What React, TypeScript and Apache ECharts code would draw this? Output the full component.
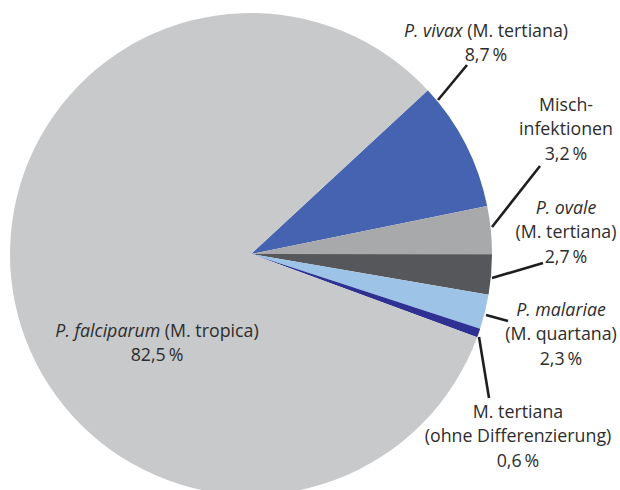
import React, { useEffect, useRef } from 'react';
import * as echarts from 'echarts';

// ---- data ----
const categories = [
  'P. vivax (M. tertiana)',
  'Mischinfektionen',
  'P. ovale (M. tertiana)',
  'P. malariae (M. quartana)',
  'M. tertiana (ohne Differenzierung)',
  'P. falciparum (M. tropica)',
];
const values = [8.7, 3.2, 2.7, 2.3, 0.6, 82.5];
// label text lines (before the percentage line); {i|...} = italic
const labelTexts: string[][] = [
  ['{i|P. vivax} (M. tertiana)'],
  ['Misch-', 'infektionen'],
  ['{i|P. ovale}', '(M. tertiana)'],
  ['{i|P. malariae}', '(M. quartana)'],
  ['M. tertiana', '(ohne Differenzierung)'],
  ['{i|P. falciparum} (M. tropica)'],
];
const colors = ['#4563b0', '#a7a9ab', '#55575a', '#9dc3e6', '#2e3192', '#c8c9cb'];

// ---- layout (label block centres and leader lines) ----
const labelCenters: number[][] = [
  [486, 42],
  [566, 128],
  [566, 231],
  [561, 333],
  [518, 435],
  [157, 342],
];
const leaderLines: (number[][] | null)[] = [
  [[438, 100], [467, 65]],
  [[492, 227], [540, 166]],
  [[492, 278], [543, 263]],
  [[486, 315], [508, 321]],
  [[479, 337], [489, 398]],
  null,
];

const fmtPct = (v: number) => v.toFixed(1).replace('.', ',') + '\u2009%';

export default function App() {
  const ref = useRef<HTMLDivElement>(null);
  useEffect(() => {
    if (!ref.current) return;
    const chart = echarts.init(ref.current, undefined, { renderer: 'svg' });
    const font = '"Open Sans", sans-serif';
    const fs = 17.8;
    const lh = 24.5;
    const option: any = {
      animation: false,
      backgroundColor: '#ffffff',
      series: [
        {
          type: 'pie',
          center: [251, 254],
          radius: 241,
          startAngle: 42.8,
          clockwise: true,
          avoidLabelOverlap: false,
          silent: true,
          itemStyle: { borderWidth: 0 },
          label: {
            show: true,
            position: 'outside',
            fontFamily: font,
            fontSize: fs,
            color: '#2d2d2d',
            lineHeight: lh,
            align: 'center',
            formatter: (p: any) =>
              labelTexts[p.dataIndex].concat([fmtPct(p.value)]).join('\n'),
            rich: {
              i: {
                fontStyle: 'italic',
                fontFamily: font,
                fontSize: fs,
                color: '#2d2d2d',
                lineHeight: lh,
              },
            },
          },
          labelLine: {
            show: true,
            lineStyle: { color: '#1e1e1e', width: 2.6 },
          },
          labelLayout: (params: any) => {
            const i = params.dataIndex;
            const res: any = {
              x: labelCenters[i][0],
              y: labelCenters[i][1],
              align: 'center',
              verticalAlign: 'middle',
            };
            if (leaderLines[i]) res.labelLinePoints = leaderLines[i];
            return res;
          },
          data: categories.map((name, i) => ({
            name,
            value: values[i],
            itemStyle: { color: colors[i] },
            labelLine: { show: leaderLines[i] != null },
          })),
        },
      ],
    };
    chart.setOption(option);
    return () => chart.dispose();
  }, []);
  return (
    <div
      ref={ref}
      style={{ position: 'fixed', left: 0, top: 0, width: 620, height: 490 }}
    />
  );
}
